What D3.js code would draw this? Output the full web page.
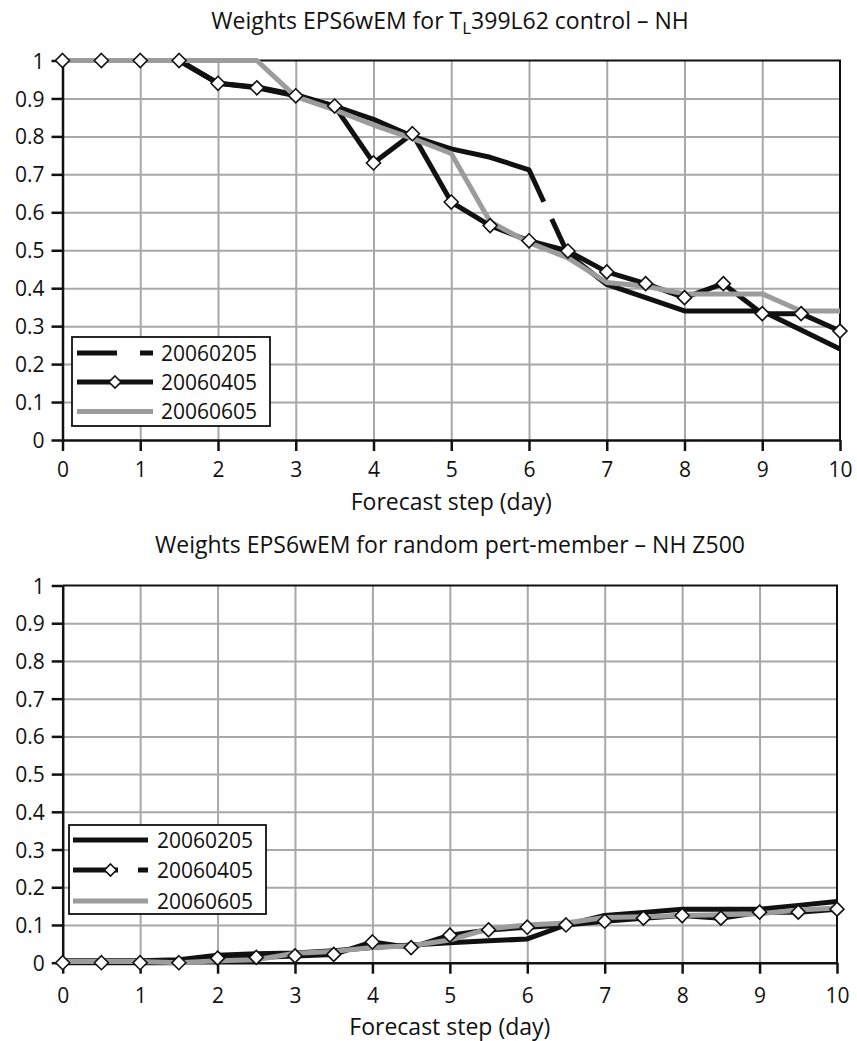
<!DOCTYPE html>
<html><head><meta charset="utf-8">
<script src="https://cdn.jsdelivr.net/npm/d3@7"></script>
<style>
html,body{margin:0;padding:0;background:#fff;}
svg text{font-family:"Open Sans",sans-serif;fill:#111;}
</style></head>
<body>
<svg id="chart" width="857" height="1041"></svg>
<script>
// ---------- DATA ----------
const days = [0,0.5,1,1.5,2,2.5,3,3.5,4,4.5,5,5.5,6,6.5,7,7.5,8,8.5,9,9.5,10];
const seriesNames = ["20060205","20060405","20060605"];
const xTicks = [0,1,2,3,4,5,6,7,8,9,10];
const yTicks = [0,0.1,0.2,0.3,0.4,0.5,0.6,0.7,0.8,0.9,1];
const yTickLabels = ["0","0.1","0.2","0.3","0.4","0.5","0.6","0.7","0.8","0.9","1"];

// top chart: control
const top0205 = [1,1,1,1,0.94,0.93,0.91,0.88,0.845,0.80,0.767,0.745,0.712,0.49,0.41,0.375,0.34,0.34,0.34,0.29,0.24];
const top0405 = [1,1,1,1,0.94,0.928,0.907,0.88,0.73,0.807,0.627,0.565,0.525,0.498,0.443,0.412,0.375,0.412,0.333,0.333,0.287];
const top0605 = [1,1,1,1,1,1,0.905,0.87,0.83,0.795,0.755,0.575,0.52,0.48,0.415,0.405,0.385,0.385,0.385,0.34,0.34];

// bottom chart: random pert-member
const bot0205 = [0.005,0.005,0.005,0.008,0.02,0.024,0.026,0.032,0.04,0.047,0.053,0.058,0.063,0.10,0.125,0.133,0.142,0.142,0.142,0.152,0.162];
const bot0405 = [0,0,0,0,0.012,0.014,0.018,0.022,0.055,0.04,0.073,0.087,0.094,0.10,0.11,0.118,0.125,0.118,0.134,0.134,0.142];
const bot0605 = [0.003,0.003,0.003,0,0.005,0.008,0.025,0.03,0.04,0.045,0.06,0.09,0.10,0.105,0.12,0.122,0.125,0.127,0.13,0.14,0.145];

const xLabel = "Forecast step (day)";

// ---------- DRAW ----------
const svg = d3.select("#chart");
const BLACK = "#111", GRAY = "#9c9c9c", GRID = "#a8a8a8";
const TICK_FS = "21px", TITLE_FS = "23px", LEG_FS = "21px";

function diamond(g, x, y, r){
  g.append("path")
   .attr("d", `M${x},${y-r}L${x+r},${y}L${x},${y+r}L${x-r},${y}Z`)
   .attr("fill","#fff").attr("stroke",BLACK).attr("stroke-width",1.6);
}

function drawChart(cfg){
  const g = svg.append("g");
  const x = d3.scaleLinear().domain([0,10]).range(cfg.xr);
  const y = d3.scaleLinear().domain([0,1]).range(cfg.yr);

  // grid
  g.append("g").attr("transform",`translate(0,${cfg.yr[0]})`)
   .call(d3.axisBottom(x).tickValues(xTicks.slice(1,-1)).tickSize(-(cfg.yr[0]-cfg.yr[1])).tickFormat(""))
   .call(s=>s.select(".domain").remove())
   .call(s=>s.selectAll("line").attr("stroke",GRID).attr("stroke-width",2));
  g.append("g").attr("transform",`translate(${cfg.xr[0]},0)`)
   .call(d3.axisLeft(y).tickValues(yTicks.slice(1,-1)).tickSize(-(cfg.xr[1]-cfg.xr[0])).tickFormat(""))
   .call(s=>s.select(".domain").remove())
   .call(s=>s.selectAll("line").attr("stroke",GRID).attr("stroke-width",2));

  // border top/right
  g.append("path")
   .attr("d",`M${cfg.xr[0]},${cfg.yr[1]}H${cfg.xr[1]}V${cfg.yr[0]}`)
   .attr("fill","none").attr("stroke",BLACK).attr("stroke-width",2);

  // axes
  const ax = g.append("g").attr("transform",`translate(0,${cfg.yr[0]})`)
   .call(d3.axisBottom(x).tickValues(xTicks).tickSize(11).tickSizeOuter(0).tickFormat(d3.format("d")));
  ax.select(".domain").attr("stroke",BLACK).attr("stroke-width",2.5);
  ax.selectAll(".tick line").attr("stroke",BLACK).attr("stroke-width",2.5);
  ax.selectAll(".tick text").attr("y",cfg.xLabY).attr("dy",0)
    .style("font-size",TICK_FS).style("font-family",'"Open Sans",sans-serif').attr("fill","#111");

  const ay = g.append("g").attr("transform",`translate(${cfg.xr[0]},0)`)
   .call(d3.axisLeft(y).tickValues(yTicks).tickSize(11).tickSizeOuter(0).tickFormat((d,i)=>yTickLabels[i]));
  ay.select(".domain").attr("stroke",BLACK).attr("stroke-width",2.5);
  ay.selectAll(".tick line").attr("stroke",BLACK).attr("stroke-width",2.5);
  ay.selectAll(".tick text").attr("x",-18).attr("dy","0.36em")
    .style("font-size",TICK_FS).style("font-family",'"Open Sans",sans-serif').attr("fill","#111");

  const line = d3.line().x((d,i)=>x(days[i])).y(d=>y(d));
  const lw = 5;

  // series 1
  const p1 = g.append("path").datum(cfg.s0205).attr("d",line)
   .attr("fill","none").attr("stroke",BLACK).attr("stroke-width",lw).attr("stroke-linejoin","round");
  if(cfg.gapAt!=null){
    const node = p1.node(), L = node.getTotalLength();
    const tx = x(cfg.gapAt);
    let lo=0, hi=L;
    for(let k=0;k<40;k++){ const m=(lo+hi)/2; if(node.getPointAtLength(m).x<tx) lo=m; else hi=m; }
    p1.attr("stroke-dasharray",`${lo} ${cfg.gapLen} ${L}`);
  }
  // series 2 line
  g.append("path").datum(cfg.s0405).attr("d",line)
   .attr("fill","none").attr("stroke",BLACK).attr("stroke-width",lw).attr("stroke-linejoin","round");
  // series 3
  g.append("path").datum(cfg.s0605).attr("d",line)
   .attr("fill","none").attr("stroke",GRAY).attr("stroke-width",lw).attr("stroke-linejoin","round");
  // markers
  cfg.s0405.forEach((v,i)=>diamond(g, x(days[i]), y(v), 7));

  // title
  const t = g.append("text").attr("x",cfg.titleX).attr("y",cfg.titleY).attr("text-anchor","middle")
    .style("font-size",TITLE_FS);
  cfg.title.forEach(part=>{
    const ts = t.append("tspan").text(part.t);
    if(part.sub){ ts.attr("dy",5).style("font-size","17px"); }
    else if(part.after){ ts.attr("dy",-5); }
  });

  // x-axis label
  g.append("text").attr("x",(cfg.xr[0]+cfg.xr[1])/2).attr("y",cfg.axTitleY).attr("text-anchor","middle")
    .style("font-size",TITLE_FS).text(xLabel);

  // legend
  const L = cfg.legend;
  g.append("rect").attr("x",L.x0).attr("y",L.y0).attr("width",L.x1-L.x0).attr("height",L.y1-L.y0)
    .attr("fill","#fff").attr("stroke",BLACK).attr("stroke-width",1.8);
  seriesNames.forEach((name,i)=>{
    const yy = L.rows[i];
    const st = L.styles[i];
    g.append("path").attr("d",`M${L.sx0},${yy}H${L.sx1}`)
      .attr("stroke",st.color).attr("stroke-width",lw).attr("fill","none")
      .attr("stroke-dasharray",st.dash||null);
    if(st.marker) diamond(g,(L.sx0+L.sx1)/2 - (st.markerShift||0),yy,6);
    g.append("text").attr("x",L.tx).attr("y",yy).attr("dy","0.36em")
      .style("font-size",LEG_FS).text(name);
  });
}

drawChart({
  xr:[62.5,840], yr:[440,60.5],
  s0205:top0205, s0405:top0405, s0605:top0605,
  gapAt:6.19, gapLen:19,
  xLabY:37, axTitleY:510,
  titleX:450, titleY:29,
  title:[{t:"Weights EPS6wEM for T"},{t:"L",sub:true},{t:"399L62 control – NH",after:true}],
  legend:{x0:72,x1:270,y0:337,y1:426,rows:[353,382,411.5],sx0:77,sx1:153,tx:161,
    styles:[{color:BLACK,dash:"40 23 13"},{color:BLACK,marker:true},{color:GRAY}]}
});

drawChart({
  xr:[62.7,837], yr:[962.7,585.5],
  s0205:bot0205, s0405:bot0405, s0605:bot0605,
  gapAt:null,
  xLabY:40, axTitleY:1035,
  titleX:450, titleY:553,
  title:[{t:"Weights EPS6wEM for random pert-member – NH Z500"}],
  legend:{x0:69,x1:266,y0:825,y1:914,rows:[840,870,901],sx0:73,sx1:148,tx:157,
    styles:[{color:BLACK},{color:BLACK,marker:true,dash:"45 20 11",markerShift:0},{color:GRAY}]}
});
</script>
</body></html>
